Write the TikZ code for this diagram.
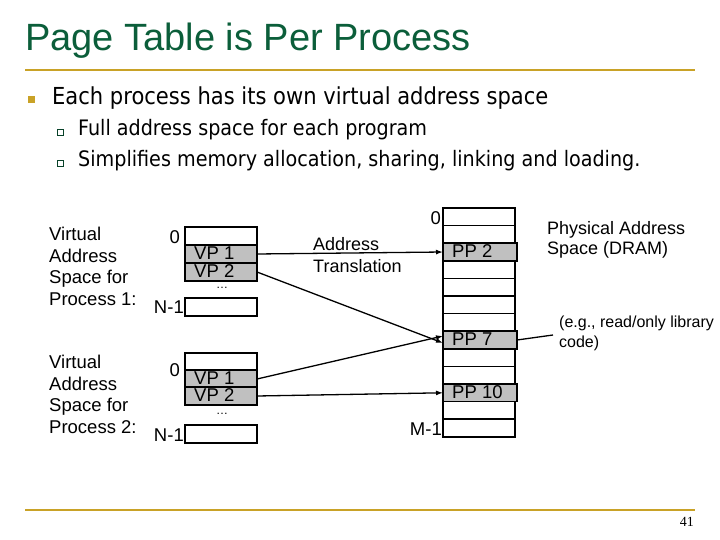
\documentclass[tikz,border=0pt]{standalone}
\usepackage{fontspec}
\usetikzlibrary{arrows.meta}
\setmainfont{Liberation Sans}
\newfontfamily\bulletfont{DejaVu Sans Condensed}
\newfontfamily\numfont{Liberation Serif}
\definecolor{titlegreen}{HTML}{0B5E3A}
\definecolor{gold}{HTML}{C9A227}
\definecolor{cellgray}{HTML}{C0C0C0}
\begin{document}
\begin{tikzpicture}[x=1pt,y=-1pt,
  cell/.style={draw,line width=1.6pt,minimum width=72pt,minimum height=17.6pt,inner sep=0pt,anchor=north west,outer sep=0pt},
  vcell/.style={cell,minimum height=18pt},
  full/.style={fill=cellgray},
  lbl/.style={font=\fontsize{18.5}{21.5}\selectfont,inner sep=0pt},
  arr/.style={line width=1.3pt,-{Latex[length=7pt,width=5pt]}}]
\useasboundingbox (0,0) rectangle (720,540);
\node[anchor=west,text=titlegreen,font=\fontsize{38}{42}\selectfont,inner sep=0pt] (title) at (25,41) {Page Table is Per Process};
\draw[gold,line width=2.5pt] (25,70) -- (695,70);
\draw[gold,line width=2.5pt] (25,510) -- (695,510);
\node[fill=gold,minimum size=7pt,inner sep=0pt] (b1) at (31,100) {};
\node[anchor=west,inner sep=0pt,font=\bulletfont\fontsize{23.4}{26}\selectfont] (t1) at (52,98) {Each process has its own virtual address space};
\node[draw=titlegreen!70!black,line width=0.8pt,minimum size=6pt,inner sep=0pt] (b2) at (60,132) {};
\node[anchor=west,inner sep=0pt,font=\bulletfont\fontsize{21.3}{24}\selectfont] (t2) at (78,130) {Full address space for each program};
\node[draw=titlegreen!70!black,line width=0.8pt,minimum size=6pt,inner sep=0pt] (b3) at (60,163) {};
\node[anchor=west,inner sep=0pt,font=\bulletfont\fontsize{21.3}{24}\selectfont] (t3) at (78,161) {Simplifies memory allocation, sharing, linking and loading.};
% process 1
\node[lbl,anchor=north west,align=left] (p1) at (49,227) {Virtual\\Address\\Space for\\Process 1:};
\node[vcell] (a0) at (185,227) {};
\node[vcell,full] (a1) at (185,245) {};
\node[vcell,full] (a2) at (185,263) {};
\node[vcell] (an) at (185,298) {};
\node[lbl,anchor=west] at ([xshift=9pt,yshift=1pt]a1.west) {VP 1};
\node[lbl,anchor=west] at ([xshift=9pt,yshift=1pt]a2.west) {VP 2};
\node[lbl,font=\fontsize{12}{12}\selectfont] (ad) at (222,288) {\dots};
\node[lbl,anchor=east] (a0l) at (180,237) {0};
\node[lbl,anchor=east] (anl) at (184,307) {N-1};
% process 2
\node[lbl,anchor=north west,align=left] (p2) at (49,355) {Virtual\\Address\\Space for\\Process 2:};
\node[vcell] (c0) at (185,353) {};
\node[vcell,full] (c1) at (185,370) {};
\node[vcell,full] (c2) at (185,387) {};
\node[vcell] (cn) at (185,425) {};
\node[lbl,anchor=west] at ([xshift=9pt,yshift=1pt]c1.west) {VP 1};
\node[lbl,anchor=west] at ([xshift=9pt,yshift=1pt]c2.west) {VP 2};
\node[lbl,font=\fontsize{12}{12}\selectfont] (cd) at (222,414) {\dots};
\node[lbl,anchor=east] (c0l) at (180,370) {0};
\node[lbl,anchor=east] (cnl) at (184,435) {N-1};
% physical
\foreach \i in {0,...,12}{
  \node[cell] (m\i) at (443,{208+17.6*\i}) {};
}
\foreach \i/\t in {2/PP 2,7/PP 7,10/PP 10}{
  \node[cell,full,minimum width=74pt] (m\i) at (443,{208+17.6*\i}) {};
  \node[lbl,anchor=west] at ([xshift=9pt,yshift=1pt]m\i.west) {\t};
}
\node[lbl,anchor=east] (m0l) at (441,218) {0};
\node[lbl,anchor=east] (m12l) at (442,429) {M-1};
\node[lbl,anchor=north west,align=left,font=\fontsize{18}{22}\selectfont] (at) at (313,237) {Address\\Translation};
\node[lbl,anchor=north west,align=left,font=\fontsize{18}{20.5}\selectfont] (pa) at (547,221) {Physical Address\\Space (DRAM)};
\node[lbl,anchor=north west,align=left,font=\fontsize{16}{20}\selectfont] (eg) at (559,316) {(e.g., read/only library\\code)};
\coordinate (egp) at (553,335);
\node[inner sep=0pt,anchor=east,font=\numfont\fontsize{14}{16}\selectfont] (pg) at (694,522) {41};
% arrows
\draw[arr] (a1.east) -- (m2.west);
\draw[arr] (a2.east) -- ([yshift=-3pt]m7.west);
\draw[arr] (c1.east) -- ([yshift=4pt]m7.west);
\draw[arr] (c2.east) -- (m10.west);
\draw[line width=1.3pt] (m7.east) -- (egp);
\end{tikzpicture}
\end{document}
